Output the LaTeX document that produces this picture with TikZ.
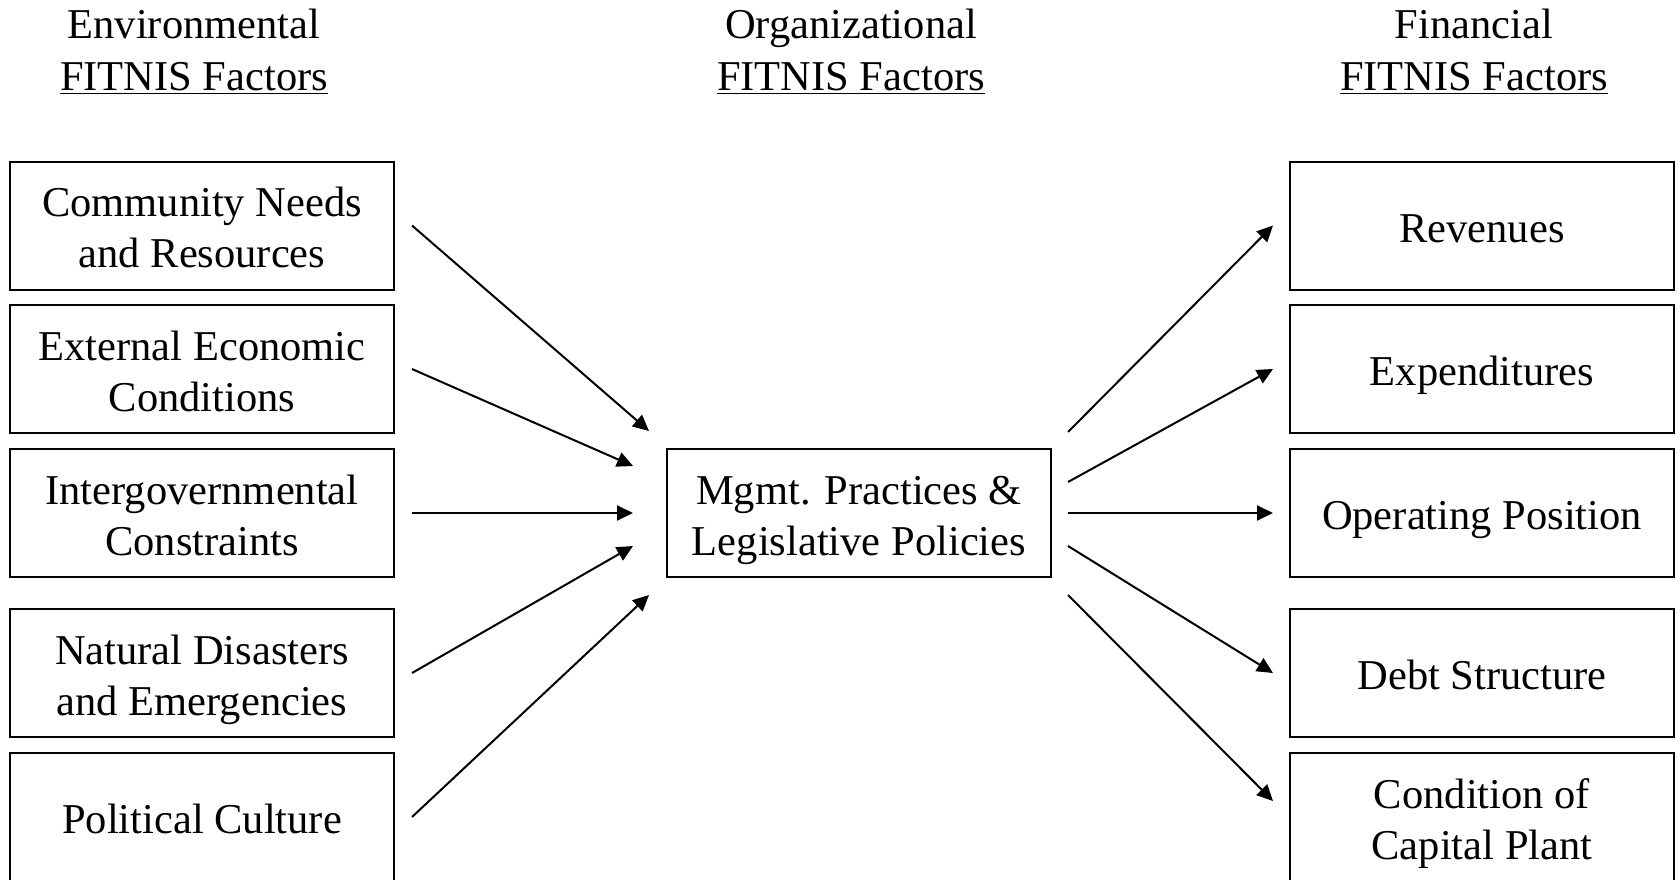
\documentclass[tikz,border=0pt]{standalone}
\usepackage{fontspec}
\setmainfont{Liberation Serif}
\usetikzlibrary{arrows.meta,calc}
\newcommand{\fline}[1]{\smash{#1}\rule[-4.5pt]{0pt}{25.5pt}}
\begin{document}
\begin{tikzpicture}[x=0.5pt,y=-0.5pt,
  every node/.style={font=\fontsize{21.25pt}{25.5pt}\selectfont},
  factor/.style={draw=black,line width=1pt,minimum width=192pt,minimum height=64pt,
    align=center,inner sep=0pt},
  head/.style={anchor=base,inner sep=0pt},
  arr/.style={line width=1pt,-{Triangle[length=8pt,width=7.5pt]}}]
\useasboundingbox (0,0) rectangle (1680,879);
% headings
\node[head] (h1a) at (194,38) {Environmental};
\node[head] (h1b) at (194,90) {\underline{FITNIS Factors}};
\node[head] (h2a) at (851,38) {Organizational};
\node[head] (h2b) at (851,90) {\underline{FITNIS Factors}};
\node[head] (h3a) at (1474,38) {Financial};
\node[head] (h3b) at (1474,90) {\underline{FITNIS Factors}};
% left column
\node[factor] (L1) at (202,225.5) {\fline{Community Needs}\\\fline{and Resources}};
\node[factor] (L2) at (202,369) {\fline{External Economic}\\\fline{Conditions}};
\node[factor] (L3) at (202,513) {\fline{Intergovernmental}\\\fline{Constraints}};
\node[factor] (L4) at (202,673) {\fline{Natural Disasters}\\\fline{and Emergencies}};
\node[factor] (L5) at (202,817) {\fline{Political Culture}};
% middle
\node[factor] (M) at (859,513) {\fline{Mgmt. Practices \&}\\\fline{Legislative Policies}};
% right column
\node[factor] (R1) at (1482,225.5) {\fline{Revenues}};
\node[factor] (R2) at (1482,369) {\fline{Expenditures}};
\node[factor] (R3) at (1482,513) {\fline{Operating Position}};
\node[factor] (R4) at (1482,673) {\fline{Debt Structure}};
\node[factor] (R5) at (1482,817) {\fline{Condition of}\\\fline{Capital Plant}};
% arrows in
\draw[arr] ($(L1.east)+(17,0)$) -- ($(M.north west)+(-17,-17)$);
\draw[arr] ($(L2.east)+(17,0)$) -- ($(M.west)+(-33,-47)$);
\draw[arr] ($(L3.east)+(17,0)$) -- ($(M.west)+(-33,0)$);
\draw[arr] ($(L4.east)+(17,0)$) -- ($(M.west)+(-33,33)$);
\draw[arr] ($(L5.east)+(17,0)$) -- ($(M.south west)+(-17,17)$);
% arrows out
\draw[arr] ($(M.north east)+(16,-16)$) -- ($(R1.west)+(-16,0)$);
\draw[arr] ($(M.east)+(16,-31)$) -- ($(R2.west)+(-16,0)$);
\draw[arr] ($(M.east)+(16,0)$) -- ($(R3.west)+(-16,0)$);
\draw[arr] ($(M.east)+(16,33)$) -- ($(R4.west)+(-16,0)$);
\draw[arr] ($(M.south east)+(16,17)$) -- ($(R5.west)+(-16,-16)$);
\end{tikzpicture}
\end{document}
